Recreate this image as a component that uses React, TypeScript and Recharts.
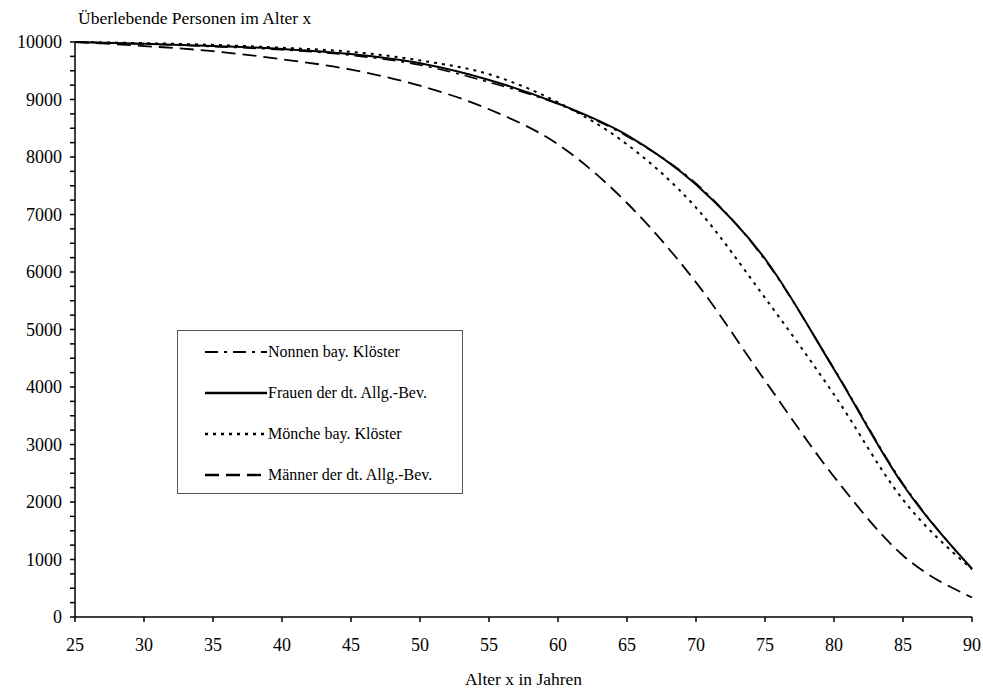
import { Label, Legend, Line, LineChart, XAxis, YAxis } from "recharts";

const ages = [25, 30, 35, 40, 45, 50, 55, 60, 65, 70, 75, 80, 85, 90];
const nonnen = [10000, 9965, 9920, 9865, 9770, 9600, 9300, 8920, 8360, 7540, 6210, 4320, 2320, 830];
const frauen = [10000, 9970, 9930, 9880, 9790, 9630, 9340, 8930, 8380, 7520, 6230, 4310, 2300, 840];
const moenche = [10000, 9980, 9950, 9900, 9830, 9680, 9440, 8950, 8220, 7120, 5550, 3870, 2040, 830];
const maenner = [10000, 9930, 9840, 9700, 9520, 9240, 8830, 8220, 7200, 5820, 4110, 2440, 1070, 340];

const xTicks = [25, 30, 35, 40, 45, 50, 55, 60, 65, 70, 75, 80, 85, 90];
const yMajorTicks = [0, 1000, 2000, 3000, 4000, 5000, 6000, 7000, 8000, 9000, 10000];
const yTicks = yMajorTicks.flatMap((t) => (t < 10000 ? [t, t + 250, t + 500, t + 750] : [t]));

const seriesDefs = [
  { key: "nonnen", name: "Nonnen bay. Klöster", dash: "13 6 3 6", width: 1.6 },
  { key: "frauen", name: "Frauen der dt. Allg.-Bev.", dash: undefined, width: 2 },
  { key: "moenche", name: "Mönche bay. Klöster", dash: "3 5", width: 2 },
  { key: "maenner", name: "Männer der dt. Allg.-Bev.", dash: "14 7", width: 1.8 },
];

const data = ages.map((age, i) => ({
  age,
  nonnen: nonnen[i],
  frauen: frauen[i],
  moenche: moenche[i],
  maenner: maenner[i],
}));

const font = '"Liberation Serif", "Times New Roman", serif';

function YTick({ x, y, payload }: any) {
  if (payload.value % 1000 !== 0) return <g />;
  return (
    <text x={x} y={y} dy="0.35em" textAnchor="end" fill="#000" fontSize={18} fontFamily={font}>
      {payload.value}
    </text>
  );
}

function LegendBox() {
  return (
    <div
      style={{
        width: 284,
        height: 162,
        border: "1px solid #555",
        background: "#fff",
        fontFamily: font,
        fontSize: 16,
        position: "relative",
      }}
    >
      {seriesDefs.map((s, i) => (
        <div
          key={s.key}
          style={{ position: "absolute", left: 27, top: 21 + i * 41 - 10, height: 20, display: "flex", alignItems: "center" }}
        >
          <svg width={62} height={20}>
            <line x1={0} y1={10} x2={62} y2={10} stroke="#000" strokeWidth={s.width + 0.6} strokeDasharray={s.dash} />
          </svg>
          <span style={{ marginLeft: 1, whiteSpace: "nowrap" }}>{s.name}</span>
        </div>
      ))}
    </div>
  );
}

export default function App() {
  return (
    <div style={{ padding: "8px 0 0 8px", width: 975, height: 682 }}>
      <style>{"body { margin: 0; }"}</style>
      <LineChart width={975} height={682} data={data} margin={{ top: 34, right: 11, left: 7, bottom: 33 }}>
        <XAxis
          dataKey="age"
          type="number"
          domain={[25, 90]}
          ticks={xTicks}
          interval={0}
          height={40}
          stroke="#000"
          strokeWidth={1.5}
          tickSize={5}
          tickMargin={16}
          tick={{ fill: "#000", fontSize: 18, fontFamily: font }}
        >
          <Label
            content={({ viewBox }: any) => (
              <text
                x={viewBox.x + viewBox.width / 2}
                y={677}
                textAnchor="middle"
                fill="#000"
                fontSize={17.5}
                fontFamily={font}
              >
                Alter x in Jahren
              </text>
            )}
          />
        </XAxis>
        <YAxis
          type="number"
          domain={[0, 10000]}
          ticks={yTicks}
          interval={0}
          width={60}
          stroke="#000"
          strokeWidth={1.5}
          tickSize={5}
          tickMargin={8}
          tick={<YTick />}
        >
          <Label
            content={({ viewBox }: any) => (
              <text x={viewBox.x + viewBox.width + 3} y={16} fill="#000" fontSize={17.5} fontFamily={font}>
                Überlebende Personen im Alter x
              </text>
            )}
          />
        </YAxis>
        <Legend
          layout="vertical"
          align="center"
          verticalAlign="middle"
          wrapperStyle={{ left: 169, top: 322, width: 286, height: 164 }}
          content={() => <LegendBox />}
        />
        {seriesDefs.map((s) => (
          <Line
            key={s.key}
            dataKey={s.key}
            name={s.name}
            type="monotone"
            stroke="#000"
            strokeWidth={s.width}
            strokeDasharray={s.dash}
            dot={false}
            activeDot={false}
            isAnimationActive={false}
          />
        ))}
      </LineChart>
    </div>
  );
}
